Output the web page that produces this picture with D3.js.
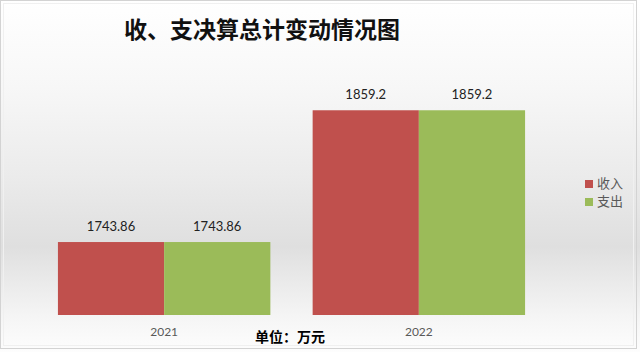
<!DOCTYPE html>
<html><head><meta charset="utf-8">
<script src="https://cdn.jsdelivr.net/npm/d3@7/dist/d3.min.js"></script>
<style>body{margin:0;padding:0;background:#fff;}svg{display:block;}</style>
</head><body><svg id="c" width="640" height="352"></svg>
<script>
const years = ["2021", "2022"];
const seriesNames = ["收入", "支出"];
const income = [1743.86, 1859.2];
const expense = [1743.86, 1859.2];
const valueLabels = [["1743.86", "1743.86"], ["1859.2", "1859.2"]];
const colors = ["#c0504d", "#9bbb59"];
const yDomain = [1680, 1880];

const svg = d3.select("#c");
const defs = svg.append("defs");
const g = defs.append("linearGradient").attr("id","bg").attr("x1",0).attr("y1",0).attr("x2",0).attr("y2",1);
[[0,"#ffffff"],[0.25,"#f7f7f7"],[0.5,"#ebebeb"],[0.7,"#dfdfdf"],[0.9,"#f5f5f5"],[1,"#fdfdfd"]].forEach(([o,c])=>g.append("stop").attr("offset",o).attr("stop-color",c));
svg.append("rect").attr("x",0).attr("y",0).attr("width",640).attr("height",352).attr("fill","url(#bg)");
svg.append("rect").attr("x",0.5).attr("y",0.5).attr("width",636).attr("height",348).attr("fill","none").attr("stroke","#d3d3d3");
svg.append("rect").attr("x",3.5).attr("y",3.5).attr("width",630).attr("height",342).attr("fill","none").attr("stroke","#f0f0f0");

svg.append("text").attr("x",262).attr("y",38).attr("text-anchor","middle")
  .attr("font-family","'Noto Sans CJK SC'").attr("font-size",23).attr("font-weight","bold").attr("fill","#111")
  .text("收、支决算总计变动情况图");

const x0 = d3.scaleBand().domain(years).range([35,548]).paddingInner(0.166).paddingOuter(0.09);
const x1 = d3.scaleBand().domain(seriesNames).range([0, x0.bandwidth()]);
const y = d3.scaleLinear().domain(yDomain).range([315, 86.5]);

const data = years.map((yr,i)=>({yr, vals:[income[i], expense[i]], labels: valueLabels[i]}));
const grp = svg.selectAll("g.yr").data(data).enter().append("g").attr("transform",d=>`translate(${x0(d.yr)},0)`);
grp.selectAll("rect").data(d=>d.vals.map((v,j)=>({v,j,label:d.labels[j]}))).enter().append("rect")
  .attr("x",d=>x1(seriesNames[d.j])).attr("width",x1.bandwidth())
  .attr("y",d=>y(d.v)).attr("height",d=>y(yDomain[0])-y(d.v)).attr("fill",d=>colors[d.j]);
grp.selectAll("text").data(d=>d.vals.map((v,j)=>({v,j,label:d.labels[j]}))).enter().append("text")
  .attr("x",d=>x1(seriesNames[d.j])+x1.bandwidth()/2).attr("y",d=>y(d.v)-11)
  .attr("text-anchor","middle").attr("font-family","Lato, 'Open Sans', sans-serif").attr("font-size",13).attr("fill","#222")
  .text(d=>d.label);

const xAxis = svg.append("g").attr("transform","translate(0,315)").call(d3.axisBottom(x0).tickSize(0).tickPadding(12));
xAxis.select(".domain").remove();
xAxis.selectAll("text").attr("font-family","Lato, 'Open Sans', sans-serif").attr("font-size",12).attr("fill","#595959");

svg.append("text").attr("x",255).attr("y",342).attr("font-family","'Noto Sans CJK SC'").attr("font-size",14).attr("font-weight","bold").attr("fill","#000").text("单位：万元");

const leg = svg.append("g").selectAll("g").data(seriesNames).enter().append("g")
  .attr("transform",(d,i)=>`translate(585,${180+i*18})`);
leg.append("rect").attr("width",8).attr("height",8).attr("fill",(d,i)=>colors[i]);
leg.append("text").attr("x",12).attr("y",8).attr("font-family","'Noto Sans CJK SC'").attr("font-size",13).attr("fill","#595959").text(d=>d);
</script></body></html>
